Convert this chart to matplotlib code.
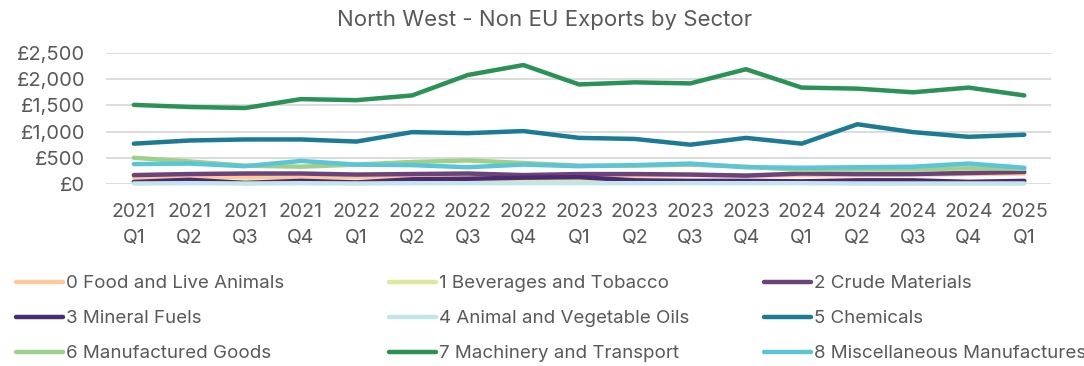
import matplotlib
matplotlib.use("Agg")
import matplotlib.pyplot as plt
from matplotlib.ticker import FuncFormatter

plt.rcParams['font.family'] = ['Inter', 'DejaVu Sans']

quarters = ["2021\nQ1", "2021\nQ2", "2021\nQ3", "2021\nQ4",
            "2022\nQ1", "2022\nQ2", "2022\nQ3", "2022\nQ4",
            "2023\nQ1", "2023\nQ2", "2023\nQ3", "2023\nQ4",
            "2024\nQ1", "2024\nQ2", "2024\nQ3", "2024\nQ4",
            "2025\nQ1"]

food = [130, 140, 130, 120, 130, 140, 150, 150, 170, 160, 170, 160, 170, 170, 180, 190, 200]
beverages = [40, 45, 40, 35, 40, 45, 50, 45, 50, 45, 50, 45, 40, 45, 40, 40, 45]
crude = [170, 190, 200, 200, 180, 190, 200, 170, 190, 190, 180, 160, 200, 190, 190, 210, 230]
mineral = [40, 80, 20, 60, 30, 90, 100, 120, 130, 70, 60, 60, 50, 70, 70, 40, 60]
oils = [10, 15, 10, 15, 10, 15, 15, 15, 15, 15, 15, 15, 15, 10, 10, 10, 10]
chemicals = [770, 830, 850, 850, 810, 990, 970, 1010, 880, 860, 750, 880, 770, 1140, 990, 900, 940]
manufactured = [500, 430, 350, 330, 370, 420, 450, 400, 350, 350, 370, 330, 270, 280, 280, 300, 290]
machinery = [1510, 1470, 1450, 1620, 1600, 1690, 2080, 2270, 1900, 1940, 1920, 2190, 1840, 1820, 1750, 1840, 1690]
misc = [380, 390, 340, 440, 370, 360, 320, 370, 340, 360, 390, 320, 310, 320, 330, 390, 310]

series = [
    ("0 Food and Live Animals", food, "#fdc89b"),
    ("1 Beverages and Tobacco", beverages, "#dfe89c"),
    ("2 Crude Materials", crude, "#6b4279"),
    ("3 Mineral Fuels", mineral, "#4b2a6f"),
    ("4 Animal and Vegetable Oils", oils, "#c2e5eb"),
    ("5 Chemicals", chemicals, "#1c7a92"),
    ("6 Manufactured Goods", manufactured, "#9dd089"),
    ("7 Machinery and Transport", machinery, "#2a9157"),
    ("8 Miscellaneous Manufactures", misc, "#5bc4d7"),
]

W, H = 1084, 366
fig = plt.figure(figsize=(W / 100, H / 100), dpi=100)
ax = fig.add_axes([106 / W, 1 - 184 / H, (1051 - 106) / W, (184 - 53) / H])

x = list(range(len(quarters)))
handles = []
for label, vals, color in series:
    (ln,) = ax.plot(x, vals, color=color, lw=3.2, label=label, solid_capstyle="round",
                    solid_joinstyle="round", clip_on=False)
    handles.append(ln)

ax.set_xlim(-0.5, len(quarters) - 0.52)
ax.set_ylim(0, 2500)
ax.set_yticks([0, 500, 1000, 1500, 2000, 2500])
ax.yaxis.set_major_formatter(FuncFormatter(lambda v, p: f"£{v:,.0f}"))
ax.set_xticks(x)
ax.set_xticklabels(quarters, linespacing=1.55)
ax.grid(axis="y", color="#d9d9d9", lw=1.3)
ax.set_axisbelow(True)
for s in ax.spines.values():
    s.set_visible(False)
ax.tick_params(axis="both", length=0, colors="#595959")
ax.tick_params(axis="x", pad=14, labelsize=14)
ax.tick_params(axis="y", pad=15, labelsize=14.5)

fig.text(545 / W, 1 - 20 / H, "North West - Non EU Exports by Sector",
         ha="center", va="center", fontsize=16, color="#595959")

# Legend laid out in three fixed-width columns, filled row by row
col_x = [16, 389, 764]
for c in range(3):
    hs = [handles[r * 3 + c] for r in range(3)]
    leg = fig.legend(handles=hs, labels=[h.get_label() for h in hs],
                     loc="upper left", bbox_to_anchor=(col_x[c] / W, 1 - 275 / H),
                     frameon=False, fontsize=13.5, handlelength=2.5, handletextpad=0.15,
                     labelspacing=0.96, borderpad=0, borderaxespad=0,
                     labelcolor="#595959")
    for lh in leg.get_lines():
        lh.set_linewidth(3.2)
        lh.set_solid_capstyle("round")

fig.savefig("out.png", dpi=100, facecolor="white")
